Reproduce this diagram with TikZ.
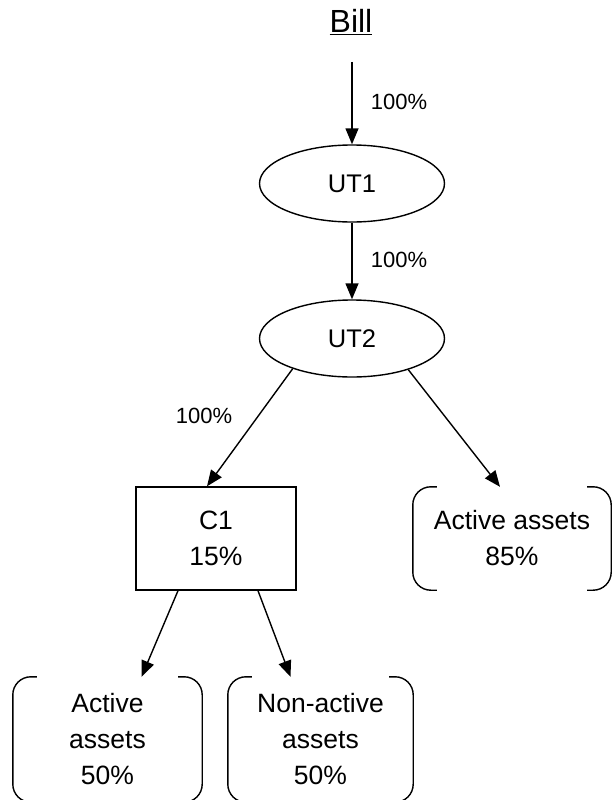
\documentclass[tikz,border=0pt]{standalone}
\usepackage{fontspec}
\setmainfont{Liberation Sans}
\usetikzlibrary{arrows.meta,shapes.geometric,calc}
\tikzset{
  lw/.style={line width=1.4pt},
  arr/.style={lw,-{Triangle[length=16pt,width=13pt]}},
  oval/.style={ellipse,draw,lw,minimum width=185pt,minimum height=77pt,inner sep=0pt,font=\fontsize{25.5}{30}\selectfont},
  boxnode/.style={rectangle,draw,lw,minimum width=160pt,minimum height=103pt,inner sep=0pt,align=center,font=\fontsize{26.5}{36.5}\selectfont},
  brknode/.style={rectangle,inner sep=0pt,align=center,font=\fontsize{26.5}{36}\selectfont},
  brk/.style={lw,rounded corners=18pt},
  pct/.style={font=\fontsize{22}{24}\selectfont,inner sep=0pt}
}
\newcommand{\bracketsfor}[1]{%
  \draw[brk] ([xshift=24pt]#1.north west) -- (#1.north west) -- (#1.south west) -- ([xshift=24pt]#1.south west);
  \draw[brk] ([xshift=-24pt]#1.north east) -- (#1.north east) -- (#1.south east) -- ([xshift=-24pt]#1.south east);}
\begin{document}
\begin{tikzpicture}[x=1pt,y=-1pt]
\useasboundingbox (0,0) rectangle (612,800);
\clip (0,0) rectangle (612,800);
\node[font=\fontsize{32}{36}\selectfont,inner sep=0pt] (bill) at (351,22) {\underline{Bill}};
\coordinate (b0) at (352,62);
\node[oval] (ut1) at (352,183.5) {UT1};
\node[oval] (ut2) at (352,338.5) {UT2};
\node[boxnode] (c1) at (216,538.5) {C1\\15\%};
\node[brknode,minimum width=198pt,minimum height=103pt] (aa85) at (512,538.5) {Active assets\\85\%};
\node[brknode,minimum width=189pt,minimum height=125pt] (aa50) at (107.5,739.5) {Active\\assets\\50\%};
\node[brknode,minimum width=185pt,minimum height=125pt] (na50) at (320.5,739.5) {Non-active\\assets\\50\%};
\bracketsfor{aa85}
\bracketsfor{aa50}
\bracketsfor{na50}
\draw[arr] (b0) -- (ut1.north);
\draw[arr] (ut1.south) -- (ut2.north);
\draw[arr] (ut2.207) -- ([xshift=-9pt]c1.north);
\draw[arr] (ut2.331) -- ([xshift=-12pt]aa85.north);
\draw[arr] ([xshift=-38pt]c1.south) -- ([xshift=34pt]aa50.north);
\draw[arr] ([xshift=42pt]c1.south) -- ([xshift=-30pt]na50.north);
\node[pct] (p1) at (399,102) {100\%};
\node[pct] (p2) at (399,260) {100\%};
\node[pct] (p3) at (204,416) {100\%};
\end{tikzpicture}
\end{document}
